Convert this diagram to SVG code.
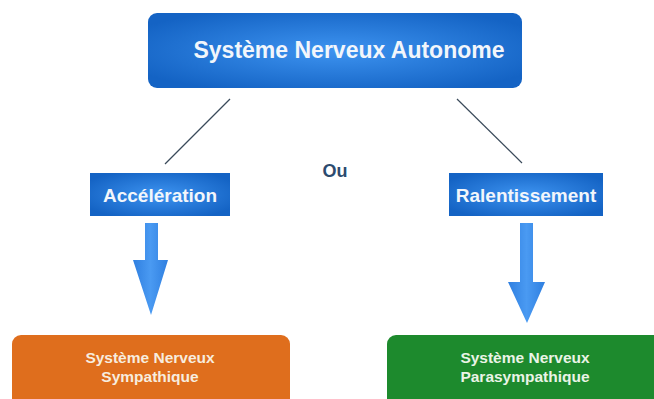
<svg xmlns="http://www.w3.org/2000/svg" width="654" height="399" viewBox="0 0 654 399">
<defs>
<radialGradient id="blueG" cx="50%" cy="50%" r="60%">
<stop offset="0" stop-color="#3d93f0"/>
<stop offset="1" stop-color="#1463c4"/>
</radialGradient>
<linearGradient id="arrowG" x1="0" y1="0" x2="1" y2="0">
<stop offset="0" stop-color="#2f7fe0"/>
<stop offset="0.5" stop-color="#4a9af2"/>
<stop offset="1" stop-color="#2f7fe0"/>
</linearGradient>
<style>
.t{font-family:"Liberation Sans",Arial,sans-serif;font-weight:bold;fill:#f2f6fb;text-anchor:middle}
.b{font-family:"Liberation Sans",Arial,sans-serif;font-weight:bold;fill:#f7ecdf;text-anchor:middle;font-size:15.5px}
.g{fill:#eaf4e6}
.ln{stroke:#3a4a5a;stroke-width:1.2;fill:none}
</style>
</defs>
<rect width="654" height="399" fill="#ffffff"/>
<g id="connectors">
<line class="ln" x1="230" y1="99" x2="165" y2="164"/>
<line class="ln" x1="457" y1="99" x2="522" y2="163"/>
<path d="M145 223 H158 V260 H168 L151 315 L133 260 H145 Z" fill="url(#arrowG)"/>
<path d="M520 223 H533 V282 H545 L527 323 L508 282 H520 Z" fill="url(#arrowG)"/>
</g>
<g id="sna">
<rect x="148" y="13" width="374" height="75" rx="9" fill="url(#blueG)"/>
<text class="t" x="349" y="58" font-size="23">Système Nerveux Autonome</text>
</g>
<g id="ou">
<text x="335" y="177" font-family="Liberation Sans,Arial,sans-serif" font-weight="bold" font-size="18" fill="#2c4a6e" text-anchor="middle">Ou</text>
</g>
<g id="acceleration">
<rect x="90" y="173" width="140" height="43" fill="url(#blueG)"/>
<text class="t" x="160" y="202" font-size="19">Accélération</text>
</g>
<g id="ralentissement">
<rect x="449" y="173" width="154" height="43" fill="url(#blueG)"/>
<text class="t" x="526" y="202" font-size="19">Ralentissement</text>
</g>
<g id="sympathique">
<rect x="12" y="335" width="278" height="72" rx="9" fill="#df6e1d"/>
<text class="b" x="150" y="363">Système Nerveux</text>
<text class="b" x="150" y="382">Sympathique</text>
</g>
<g id="parasympathique">
<rect x="387" y="335" width="280" height="72" rx="9" fill="#1d8a2d"/>
<text class="b g" x="525" y="363">Système Nerveux</text>
<text class="b g" x="525" y="382">Parasympathique</text>
</g>
</svg>
